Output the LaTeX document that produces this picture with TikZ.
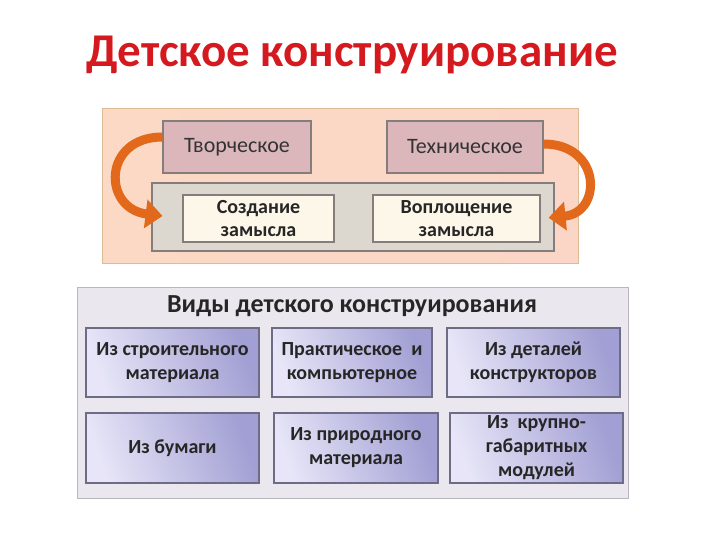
\documentclass[tikz,border=0pt]{standalone}
\usepackage{fontspec}
\setmainfont{Carlito}
\usetikzlibrary{arrows.meta}
\definecolor{titlered}{HTML}{D41A1F}
\definecolor{peachA}{HTML}{FBD9C4}
\definecolor{peachB}{HTML}{F6A462}
\definecolor{peachC}{HTML}{FBD6C6}
\definecolor{peachline}{HTML}{DDBB95}
\definecolor{rosefill}{HTML}{DBB7BC}
\definecolor{stonefill}{HTML}{DDD8CF}
\definecolor{creamfill}{HTML}{FDF7E9}
\definecolor{boxline}{HTML}{857D7C}
\definecolor{arroworange}{HTML}{E2691B}
\definecolor{lilacfill}{HTML}{EBE7EF}
\definecolor{lilacline}{HTML}{BAB6C0}
\definecolor{kindlight}{HTML}{E7E5F7}
\definecolor{kinddark}{HTML}{A19FD3}
\definecolor{kindline}{HTML}{6E6B86}

\tikzstyle{toppanel}=[draw=peachline,line width=1pt,inner sep=0pt,
  left color=peachA,middle color=peachB,right color=peachC]
\tikzstyle{pinkbox}=[draw=boxline,fill=rosefill,line width=1.2pt,inner sep=0pt,
  minimum height=52pt,text=black!80,font=\fontsize{22}{24}\selectfont]
\tikzstyle{graybox}=[draw=boxline,fill=stonefill,line width=1.2pt,inner sep=0pt]
\tikzstyle{ideabox}=[draw=boxline,fill=creamfill,line width=1.2pt,inner sep=0pt,
  minimum height=47pt,align=center,text=black!85,font=\fontsize{20}{23}\selectfont\bfseries]
\tikzstyle{botpanel}=[draw=lilacline,fill=lilacfill,line width=1pt,inner sep=0pt]
\tikzstyle{kindbox}=[draw=kindline,line width=1.2pt,inner sep=0pt,align=center,
  left color=kindlight,right color=kinddark,shading angle=110,
  text=black!85,font=\fontsize{20}{24}\selectfont\bfseries]
\tikzstyle{curlarrow}=[draw=arroworange,line width=9pt,
  -{Triangle[width=28pt,length=17pt]}]

\begin{document}
\begin{tikzpicture}[x=1pt,y=-1pt]
\useasboundingbox (0,0) rectangle (720,540);
\node[text=titlered,font=\fontsize{47}{50}\selectfont\bfseries] (title) at (352,55) {Детское конструирование};

% upper block
\node[toppanel,minimum width=476pt,minimum height=154pt] (upper) at (340,186) {};
\node[pinkbox,minimum width=148pt] (tvor) at (237,147) {Творческое};
\node[pinkbox,minimum width=156pt] (tech) at (465,147) {Техническое};
\node[graybox,minimum width=402pt,minimum height=68pt] (stage) at (353,217) {};
\node[ideabox,minimum width=151pt] (idea) at (258.5,218.5) {Создание\\замысла};
\node[ideabox,minimum width=167pt] (embody) at (456.5,218.5) {Воплощение\\замысла};

\path[curlarrow,shorten >=20pt] ([yshift=10pt]tvor.west) .. controls +(-60,0) and +(-80,-10) .. (idea.west);
\path[curlarrow,shorten >=8pt] ([yshift=3pt]tech.east) .. controls +(58,0) and +(62,-6) .. (embody.east);

% lower block
\node[botpanel,minimum width=551pt,minimum height=211pt] (lower) at (352.5,392.5) {};
\node[font=\fontsize{26}{28}\selectfont\bfseries,text=black!85] (kinds) at (352,306) {Виды детского конструирования};

\node[kindbox,minimum width=173pt,minimum height=69pt] (k1) at (172.5,362.5) {Из строительного\\материала};
\node[kindbox,minimum width=160pt,minimum height=69pt] (k2) at (352,362.5) {Практическое\ \ и\\компьютерное};
\node[kindbox,minimum width=173pt,minimum height=69pt] (k3) at (533.5,362.5) {Из деталей\\конструкторов};
\node[kindbox,minimum width=173pt,minimum height=70pt] (k4) at (172.5,448) {Из бумаги};
\node[kindbox,minimum width=164pt,minimum height=70pt] (k5) at (356,448) {Из природного\\материала};
\node[kindbox,minimum width=173pt,minimum height=70pt] (k6) at (536.5,448) {Из\ \ крупно-\\габаритных\\модулей};
\end{tikzpicture}
\end{document}
